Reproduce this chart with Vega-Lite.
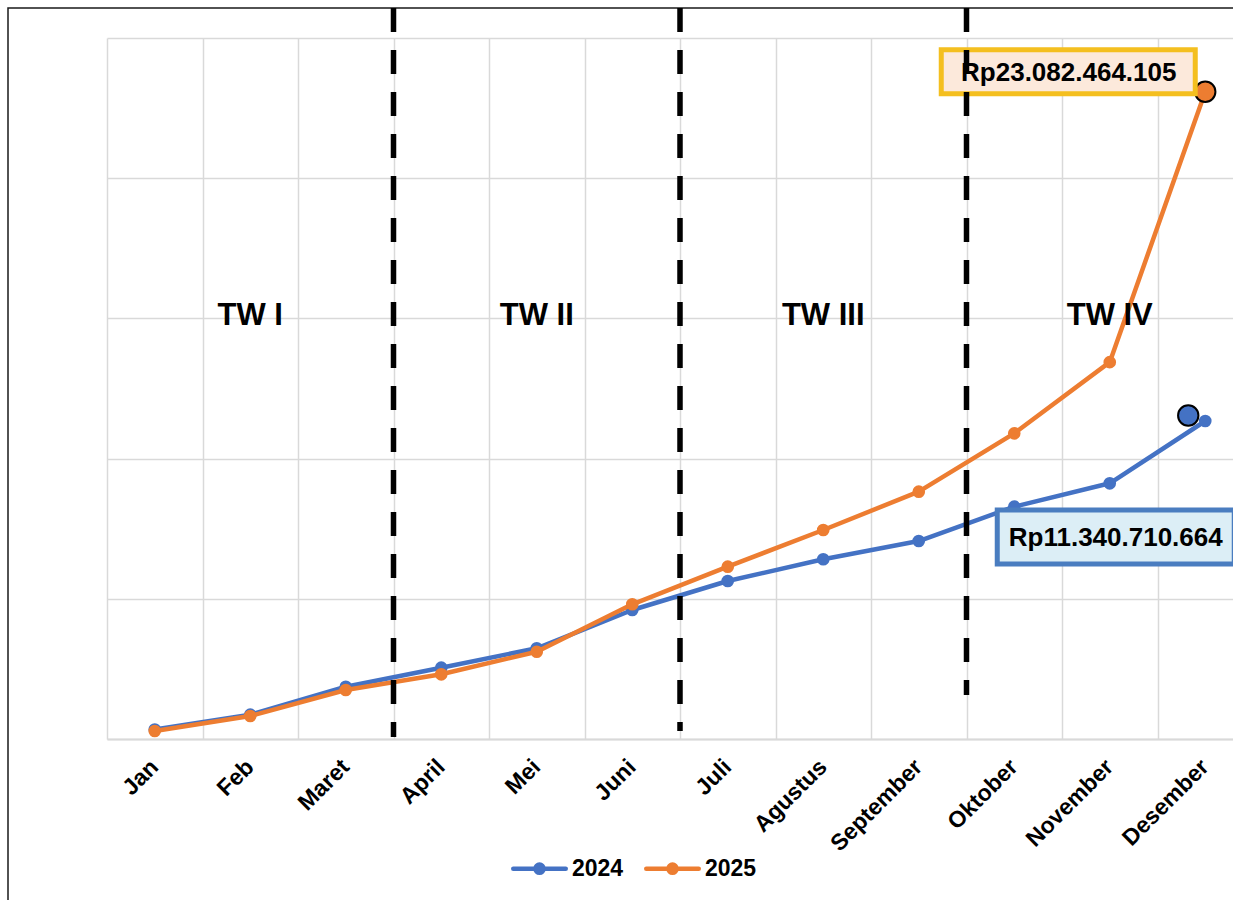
{
  "$schema": "https://vega.github.io/schema/vega-lite/v6.json",
  "width": 1226,
  "height": 893,
  "autosize": {"type": "none"},
  "padding": {"left": 8, "top": 8, "right": -1, "bottom": -1},
  "background": "white",
  "config": {
    "font": "Liberation Sans",
    "view": {"stroke": "#1a1a1a", "strokeWidth": 1.5}
  },
  "resolve": {"axis": {"x": "independent"}},
  "datasets": {
    "sales": [
      {"month": "Jan", "year": "2024", "value": 340000000},
      {"month": "Feb", "year": "2024", "value": 870000000},
      {"month": "Maret", "year": "2024", "value": 1865000000},
      {"month": "April", "year": "2024", "value": 2543000000},
      {"month": "Mei", "year": "2024", "value": 3235000000},
      {"month": "Juni", "year": "2024", "value": 4600000000},
      {"month": "Juli", "year": "2024", "value": 5635000000},
      {"month": "Agustus", "year": "2024", "value": 6409000000},
      {"month": "September", "year": "2024", "value": 7061000000},
      {"month": "Oktober", "year": "2024", "value": 8285000000},
      {"month": "November", "year": "2024", "value": 9119000000},
      {"month": "Desember", "year": "2024", "value": 11340710664, "label": "Rp11.340.710.664"},
      {"month": "Jan", "year": "2025", "value": 285000000},
      {"month": "Feb", "year": "2025", "value": 820000000},
      {"month": "Maret", "year": "2025", "value": 1747000000},
      {"month": "April", "year": "2025", "value": 2307000000},
      {"month": "Mei", "year": "2025", "value": 3113000000},
      {"month": "Juni", "year": "2025", "value": 4804000000},
      {"month": "Juli", "year": "2025", "value": 6145000000},
      {"month": "Agustus", "year": "2025", "value": 7454000000},
      {"month": "September", "year": "2025", "value": 8820000000},
      {"month": "Oktober", "year": "2025", "value": 10900000000},
      {"month": "November", "year": "2025", "value": 13440000000},
      {"month": "Desember", "year": "2025", "value": 23082464105, "label": "Rp23.082.464.105"}
    ],
    "quarters": [
      {"month": "Feb", "q": "TW I", "level": 14760000000},
      {"month": "Mei", "q": "TW II", "level": 14760000000},
      {"month": "Agustus", "q": "TW III", "level": 14760000000},
      {"month": "November", "q": "TW IV", "level": 14760000000}
    ],
    "splits": [
      {"month": "April", "top": 26070000000, "bottom": 71000000},
      {"month": "Juli", "top": 26070000000, "bottom": 285000000},
      {"month": "Oktober", "top": 26070000000, "bottom": 1569000000}
    ]
  },
  "encoding": {
    "x": {
      "field": "month",
      "type": "ordinal",
      "sort": ["Jan", "Feb", "Maret", "April", "Mei", "Juni", "Juli", "Agustus", "September", "Oktober", "November", "Desember"],
      "scale": {
        "type": "band",
        "domain": ["Jan", "Feb", "Maret", "April", "Mei", "Juni", "Juli", "Agustus", "September", "Oktober", "November", "Desember"],
        "range": [99, 1245],
        "paddingInner": 0,
        "paddingOuter": 0
      },
      "axis": null
    },
    "y": {
      "field": "value",
      "type": "quantitative",
      "scale": {"domain": [0, 25000000000], "range": [731, 30], "nice": false, "zero": true},
      "axis": {
        "title": null,
        "labels": false,
        "ticks": false,
        "domain": false,
        "grid": true,
        "values": [0, 5000000000, 10000000000, 15000000000, 20000000000, 25000000000],
        "gridColor": "#D9D9D9",
        "gridWidth": 1.5
      }
    }
  },
  "layer": [
    {
      "data": {"name": "sales"},
      "transform": [{"filter": "datum.year == '2024'"}],
      "mark": {"type": "line", "strokeWidth": 4.5, "strokeJoin": "round", "strokeCap": "round"},
      "encoding": {
        "x": {
          "field": "month",
          "type": "ordinal",
          "sort": ["Jan", "Feb", "Maret", "April", "Mei", "Juni", "Juli", "Agustus", "September", "Oktober", "November", "Desember"],
          "axis": {
            "orient": "top",
            "title": null,
            "labels": false,
            "ticks": false,
            "domain": false,
            "grid": true,
            "gridColor": "#D9D9D9",
            "gridWidth": 1.5,
            "tickBand": "extent"
          }
        },
        "color": {
          "field": "year",
          "type": "nominal",
          "scale": {"domain": ["2024", "2025"], "range": ["#4472C4", "#ED7D31"]},
          "legend": {
            "orient": "none",
            "legendX": 503,
            "legendY": 832,
            "direction": "horizontal",
            "title": null,
            "padding": 0,
            "labelFontSize": 23,
            "labelFontWeight": "bold",
            "labelColor": "#000000",
            "labelOffset": 4,
            "columnPadding": 13,
            "symbolType": "M-1,0H1M0.156,0A0.156,0.156,0,1,1,-0.156,0A0.156,0.156,0,1,1,0.156,0",
            "symbolSize": 2756,
            "symbolStrokeWidth": 4.5,
            "encode": {
              "symbols": {
                "update": {
                  "fill": {"scale": "color", "field": "value"},
                  "stroke": {"scale": "color", "field": "value"},
                  "strokeCap": {"value": "round"},
                  "opacity": {"value": 1}
                }
              }
            }
          }
        }
      }
    },
    {
      "data": {"name": "sales"},
      "transform": [{"filter": "datum.year == '2024'"}],
      "mark": {"type": "point", "filled": true, "size": 160, "opacity": 1},
      "encoding": {
        "x": {
          "field": "month",
          "type": "ordinal",
          "sort": ["Jan", "Feb", "Maret", "April", "Mei", "Juni", "Juli", "Agustus", "September", "Oktober", "November", "Desember"],
          "axis": {
            "orient": "bottom",
            "title": null,
            "labelAngle": -45,
            "labelAlign": "right",
            "labelBaseline": "middle",
            "labelFontSize": 23,
            "labelFontWeight": "bold",
            "labelColor": "#000000",
            "labelPadding": 24,
            "ticks": false,
            "tickSize": 0,
            "domainColor": "#D9D9D9",
            "domainWidth": 2,
            "grid": false,
            "offset": -162,
            "labelFlush": false,
            "labelOverlap": false,
            "labelBound": false
          }
        },
        "color": {"field": "year", "type": "nominal"}
      }
    },
    {
      "data": {"name": "sales"},
      "transform": [{"filter": "datum.year == '2025'"}],
      "mark": {"type": "line", "strokeWidth": 4.5, "strokeJoin": "round", "strokeCap": "round"},
      "encoding": {"color": {"field": "year", "type": "nominal"}}
    },
    {
      "data": {"name": "sales"},
      "transform": [{"filter": "datum.year == '2025'"}],
      "mark": {"type": "point", "filled": true, "size": 160, "opacity": 1},
      "encoding": {"color": {"field": "year", "type": "nominal"}}
    },
    {
      "data": {"name": "sales"},
      "transform": [{"filter": "datum.year == '2025' && datum.month == 'Desember'"}],
      "mark": {"type": "point", "filled": true, "size": 415, "opacity": 1, "fill": "#ED7D31", "stroke": "#000000", "strokeWidth": 2}
    },
    {
      "data": {"name": "sales"},
      "transform": [{"filter": "datum.year == '2024' && datum.month == 'Desember'"}],
      "mark": {"type": "point", "filled": true, "size": 415, "opacity": 1, "fill": "#4472C4", "stroke": "#000000", "strokeWidth": 2, "xOffset": -17, "yOffset": -5.5}
    },
    {
      "data": {"name": "sales"},
      "transform": [{"filter": "datum.year == '2025' && datum.month == 'Desember'"}],
      "mark": {"type": "point", "filled": true, "opacity": 1, "shape": "M-1,-0.1732H1V0.1732H-1Z", "size": 64516, "fill": "#FCE9DB", "stroke": "#F4BF1F", "strokeWidth": 5, "xOffset": -137, "yOffset": -20}
    },
    {
      "data": {"name": "sales"},
      "transform": [{"filter": "datum.year == '2024' && datum.month == 'Desember'"}],
      "mark": {"type": "point", "filled": true, "opacity": 1, "shape": "M-1,-0.228H1V0.228H-1Z", "size": 56169, "fill": "#DCEEF6", "stroke": "#4A7DC0", "strokeWidth": 5, "xOffset": -89.5, "yOffset": 116}
    },
    {
      "data": {"name": "sales"},
      "transform": [{"filter": "datum.year == '2025' && datum.month == 'Desember'"}],
      "mark": {"type": "text", "fontSize": 26, "fontWeight": "bold", "color": "#000000", "align": "center", "baseline": "middle", "xOffset": -136.5, "yOffset": -19},
      "encoding": {"text": {"field": "label"}}
    },
    {
      "data": {"name": "sales"},
      "transform": [{"filter": "datum.year == '2024' && datum.month == 'Desember'"}],
      "mark": {"type": "text", "fontSize": 26, "fontWeight": "bold", "color": "#000000", "align": "center", "baseline": "middle", "xOffset": -89.5, "yOffset": 117},
      "encoding": {"text": {"field": "label"}}
    },
    {
      "data": {"name": "quarters"},
      "mark": {"type": "text", "fontSize": 31, "fontWeight": "bold", "color": "#000000", "align": "center", "baseline": "alphabetic"},
      "encoding": {
        "x": {
          "field": "month",
          "type": "ordinal",
          "sort": ["Jan", "Feb", "Maret", "April", "Mei", "Juni", "Juli", "Agustus", "September", "Oktober", "November", "Desember"]
        },
        "y": {"field": "level", "type": "quantitative"},
        "text": {"field": "q", "type": "nominal"}
      }
    },
    {
      "data": {"name": "splits"},
      "mark": {"type": "rule", "color": "#000000", "strokeWidth": 5.5, "strokeDash": [24, 18]},
      "encoding": {
        "x": {
          "field": "month",
          "type": "ordinal",
          "sort": ["Jan", "Feb", "Maret", "April", "Mei", "Juni", "Juli", "Agustus", "September", "Oktober", "November", "Desember"],
          "bandPosition": 0
        },
        "y": {"field": "top", "type": "quantitative"},
        "y2": {"field": "bottom"}
      }
    }
  ]
}
